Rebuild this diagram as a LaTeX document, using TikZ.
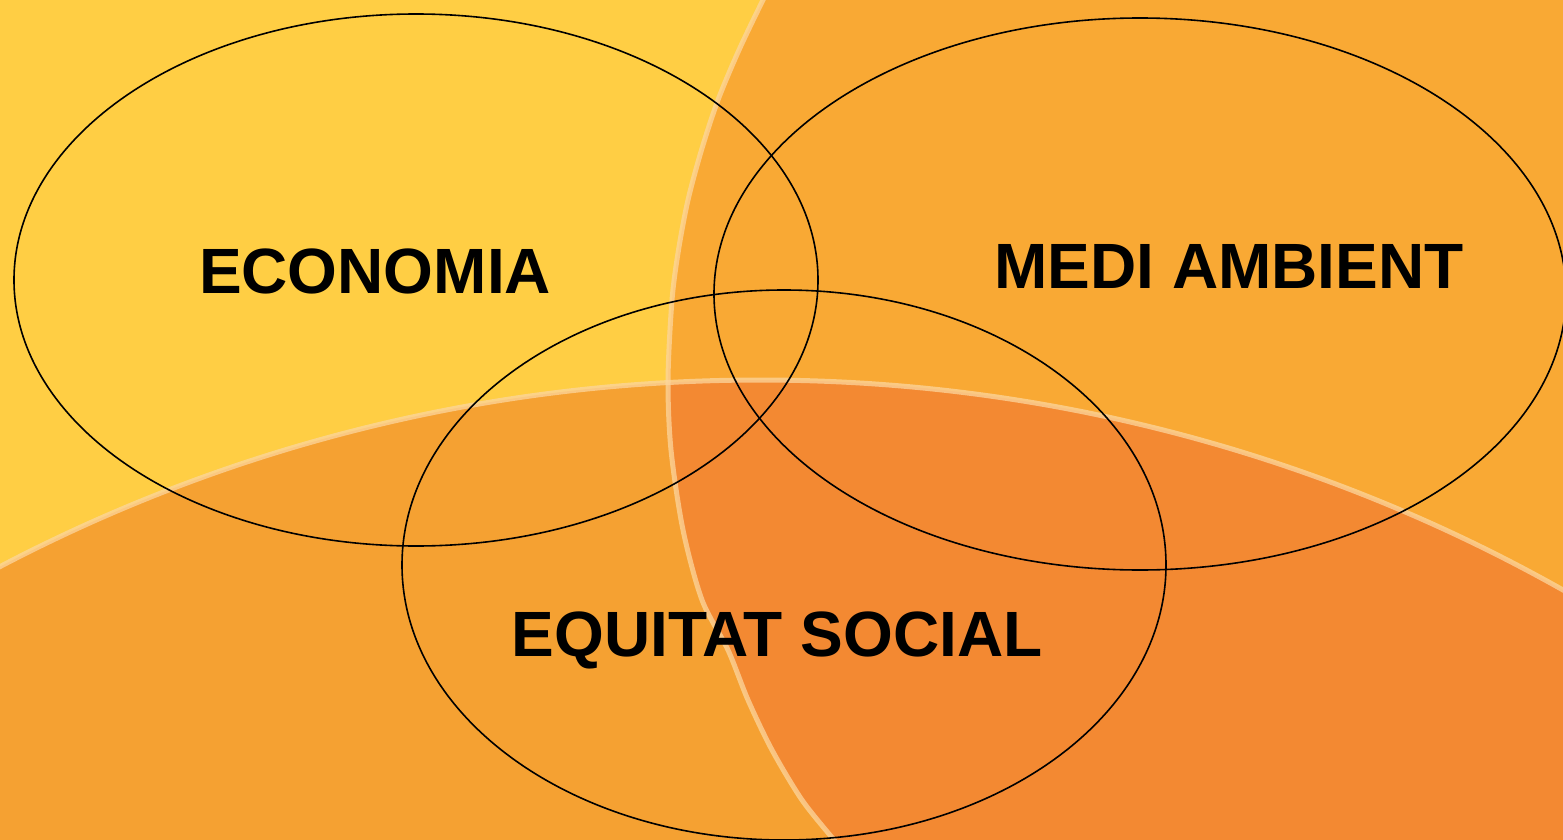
\documentclass[tikz,border=0pt]{standalone}
\usepackage{fontspec}
\setmainfont{Liberation Sans}

\definecolor{bgyellow}{RGB}{255,206,68}
\definecolor{topor}{RGB}{249,169,52}
\definecolor{lowor}{RGB}{245,161,50}
\definecolor{darkor}{RGB}{243,137,50}
\definecolor{paleline}{RGB}{252,214,158}

\begin{document}
\begin{tikzpicture}
  [x=1pt,y=-1pt,every node/.style={font=\fontsize{64}{64}\selectfont\bfseries,inner sep=0pt},
   ring/.style={draw=black,line width=1.6pt}]
  \useasboundingbox (0,0) rectangle (1563,840);
  \clip (0,0) rectangle (1563,840);

  \fill[bgyellow] (0,0) rectangle (1563,840);

  % right half and bottom dish
  \def\rimpts{(774,-20) (763,0) (739,50) (718,100) (701.5,150) (688,200) (678.5,250) (672,300)
      (668,380) (671,450) (683,530) (702,600) (728,650) (748,700) (772,750) (802,800) (834,840) (850,860)}
  \def\rightside{plot[smooth] coordinates {\rimpts} -- (1600,860) -- (1600,-20) -- cycle}
  \fill[topor] \rightside;
  \fill[lowor] (760,2018) circle [radius=1638pt];
  \begin{scope}
    \clip (760,2018) circle [radius=1638pt];
    \fill[darkor] \rightside;
  \end{scope}

  % pale rims
  \draw[paleline,line width=5pt,opacity=.75] plot[smooth] coordinates {\rimpts};
  \draw[paleline,line width=5pt,opacity=.75] (760,2018) circle [radius=1638pt];

  % the three rings
  \foreach \cx/\cy/\rx/\ry in {416/280/402/266, 1140/294/426/276, 784/565/382/275}
    \draw[ring] (\cx,\cy) ellipse [x radius=\rx pt, y radius=\ry pt];

  \node (eco)  [anchor=base] at (375,293) {ECONOMIA};
  \node (medi) [anchor=base] at (1229,288) {MEDI AMBIENT};
  \node (equi) [anchor=base] at (777,656) {EQUITAT SOCIAL};

\end{tikzpicture}
\end{document}
